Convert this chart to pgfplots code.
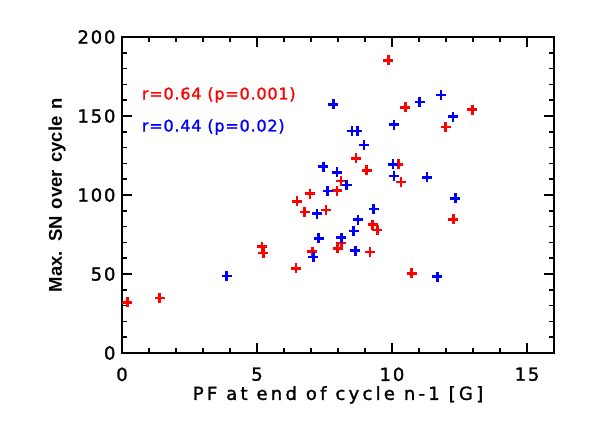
\documentclass[border=0pt]{standalone}
\usepackage{fontspec}
\setmainfont{DejaVu Sans}
\newfontfamily\hf[LetterSpace=10, FakeBold=1.5]{DejaVu Sans}
\newfontfamily\hfx[LetterSpace=18, FakeBold=1.5]{DejaVu Sans}
\newfontfamily\hfa[LetterSpace=5, FakeBold=1.5]{DejaVu Sans}
\newfontfamily\lib[WordSpace=1.4]{Liberation Sans}
\usepackage{pgfplots}
\usepackage{pgfplotstable}
\pgfplotsset{compat=1.18}
\pgfplotstableread{
x y
9.87 185.3
10.49 155.4
12.98 154.1
11.99 143.0
8.66 123.2
9.06 115.6
10.24 119.4
10.33 108.2
8.11 108.8
7.96 102.7
6.96 100.8
6.48 96.0
6.77 89.3
7.55 90.5
12.27 84.6
9.28 81.3
9.46 77.9
8.12 69.5
7.99 66.3
9.19 64.0
5.18 67.4
5.24 63.2
7.05 64.2
6.44 53.5
10.73 50.5
1.39 34.9
0.20 32.0
}\reddata
\pgfplotstableread{
x y
7.83 157.3
11.02 158.9
11.82 163.2
12.26 149.5
10.08 144.6
8.52 140.6
8.72 140.6
8.97 131.6
7.46 117.9
7.96 114.3
10.03 119.4
10.07 112.0
8.32 106.3
11.29 111.2
7.62 102.5
12.35 97.9
7.22 88.2
9.32 91.2
8.74 84.4
8.58 77.1
7.28 72.6
8.12 73.1
8.64 64.8
7.09 60.8
3.88 48.8
11.68 48.4
}\bluedata
\begin{document}
\begin{tikzpicture}
\useasboundingbox (-122pt,-79pt) rectangle (469pt,353pt);
\begin{axis}[
  at={(0pt,0pt)}, anchor=south west,
  scale only axis, width=432pt, height=316pt,
  xmin=0, xmax=16, ymin=0, ymax=200,
  xtick={0,5,10,15}, ytick={0,50,100,150,200},
  minor x tick num=4, minor y tick num=4,
  tick align=inside,
  major tick length=10pt, minor tick length=5pt,
  axis line style={line width=1.8pt},
  every tick/.style={black, line width=1.5pt},
  /pgf/number format/assume math mode=true,
  tick label style={font=\hf\fontsize{18}{18}\selectfont},
  x tick label style={yshift=-11pt},
  y tick label style={xshift=-3pt},
  xlabel={PF at end of cycle n-1 [G]},
  xlabel style={at={([yshift=-33pt]axis description cs:0.5,0)}, anchor=north, inner sep=0pt, font=\hfx\fontsize{18}{18}\selectfont},
  ylabel={Max. SN over cycle n},
  ylabel style={at={([xshift=-56pt]axis description cs:0,0.5)}, anchor=south, rotate=0, inner sep=0pt, font=\lib\bfseries\fontsize{18.5}{18.5}\selectfont},
  clip=false,
]
\addplot[only marks, mark=+, mark size=5pt, red, mark options={line width=2.6pt}] table[x=x,y=y] {\reddata};
\addplot[only marks, mark=+, mark size=5pt, blue, mark options={line width=2.6pt}] table[x=x,y=y] {\bluedata};
\node[anchor=west, text=red, inner sep=0pt, font=\hfa\fontsize{16}{16}\selectfont] at (axis cs:0.73,163.3) {r=0.64 (p=0.001)};
\node[anchor=west, text=blue, inner sep=0pt, font=\hfa\fontsize{16}{16}\selectfont] at (axis cs:0.73,143) {r=0.44 (p=0.02)};
\end{axis}
\end{tikzpicture}
\end{document}
